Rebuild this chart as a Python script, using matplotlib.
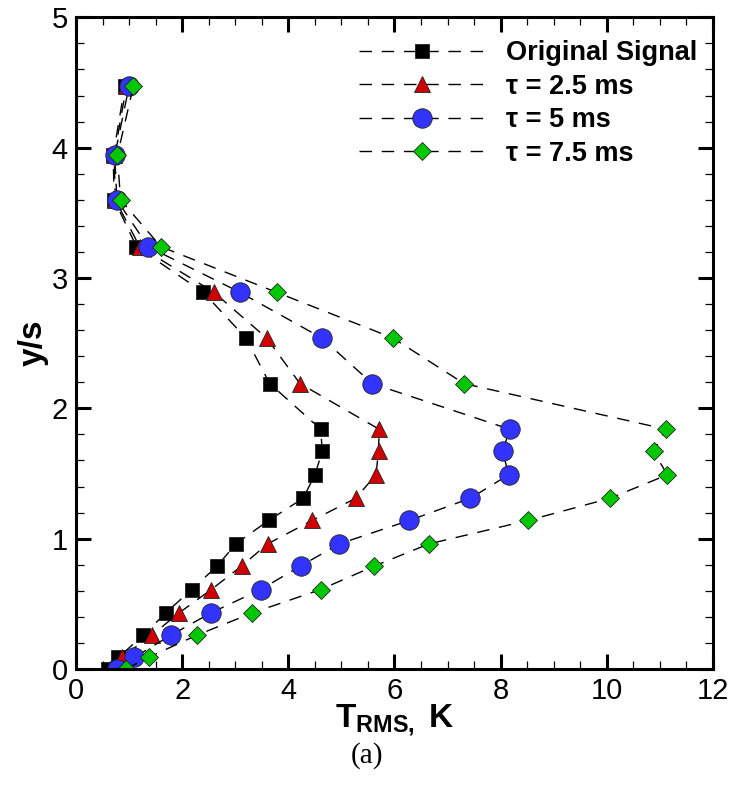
import numpy as np
import matplotlib
matplotlib.use("Agg")
import matplotlib.pyplot as plt
from matplotlib.ticker import MultipleLocator

plt.rcParams['font.family'] = ['Liberation Sans', 'DejaVu Sans']
plt.rcParams['mathtext.fontset'] = 'custom'
plt.rcParams['mathtext.rm'] = 'Liberation Sans'
plt.rcParams['mathtext.bf'] = 'Liberation Sans:bold'

# y/s levels shared by all series
y_s = [0.0, 0.09, 0.26, 0.43, 0.61, 0.79, 0.96, 1.14, 1.31, 1.49, 1.67, 1.84,
       2.19, 2.54, 2.89, 3.24, 3.60, 3.94, 4.47]

# T_RMS, K
t_orig = [0.61, 0.80, 1.27, 1.69, 2.18, 2.66, 3.01, 3.63, 4.28, 4.50, 4.64, 4.61,
          3.65, 3.20, 2.40, 1.14, 0.72, 0.70, 0.92]
t_25 = [0.65, 0.86, 1.43, 1.94, 2.55, 3.12, 3.61, 4.45, 5.27, 5.65, 5.70, 5.71,
        4.22, 3.59, 2.60, 1.20, 0.74, 0.72, 0.95]
t_5 = [0.77, 1.10, 1.79, 2.54, 3.48, 4.23, 4.96, 6.28, 7.43, 8.15, 8.04, 8.17,
       5.58, 4.63, 3.09, 1.36, 0.77, 0.73, 1.00]
t_75 = [0.94, 1.37, 2.28, 3.32, 4.61, 5.62, 6.65, 8.52, 10.06, 11.14, 10.88, 11.11,
        7.31, 5.97, 3.78, 1.60, 0.84, 0.78, 1.08]

labels = ['Original Signal', '\u03c4 = 2.5 ms', '\u03c4 = 5 ms', '\u03c4 = 7.5 ms']

fig = plt.figure(figsize=(7.32, 7.88), dpi=100)
ax = fig.add_axes([0.1038, 0.151, 0.8702, 0.827])

styles = [
    (t_orig, 's', '#000000', 9.5),
    (t_25, '^', '#d00000', 12),
    (t_5, 'o', '#3333ff', 14),
    (t_75, 'D', '#00c800', 9.5),
]
for (t, mk, col, ms), lab in zip(styles, labels):
    ax.plot(t, y_s, ls=(0, (9, 7)), color='k', lw=1.0, marker=mk,
            mfc=col, mec='#222222', mew=0.6, ms=ms, label=lab)

ax.set_xlim(0, 12)
ax.set_ylim(0, 5)
ax.xaxis.set_major_locator(MultipleLocator(2))
ax.xaxis.set_minor_locator(MultipleLocator(0.5))
ax.yaxis.set_major_locator(MultipleLocator(1))
ax.yaxis.set_minor_locator(MultipleLocator(0.2))
ax.tick_params(which='both', direction='in', top=True, right=True)
ax.tick_params(which='major', length=11, width=2.2, labelsize=21, pad=6)
ax.tick_params(which='minor', length=6, width=0.9)
for sp in ax.spines.values():
    sp.set_linewidth(2.2)

ax.set_xlabel(r'$\mathbf{T}_{\mathbf{RMS,}}$ K', fontsize=24, fontweight='bold',
              labelpad=-2)
ax.set_ylabel('y/s', fontsize=24, fontweight='bold', labelpad=2)

leg = ax.legend(loc='upper right', bbox_to_anchor=(0.993, 0.9816),
                frameon=False, handlelength=4.65, handletextpad=0.78,
                labelspacing=0.28, borderaxespad=0,
                prop={'weight': 'bold', 'size': 19.5})

fig.text(0.501, 0.041, '(a)', ha='center', va='center', fontsize=21,
         family='Liberation Serif')

fig.savefig('out.png', dpi=100)
